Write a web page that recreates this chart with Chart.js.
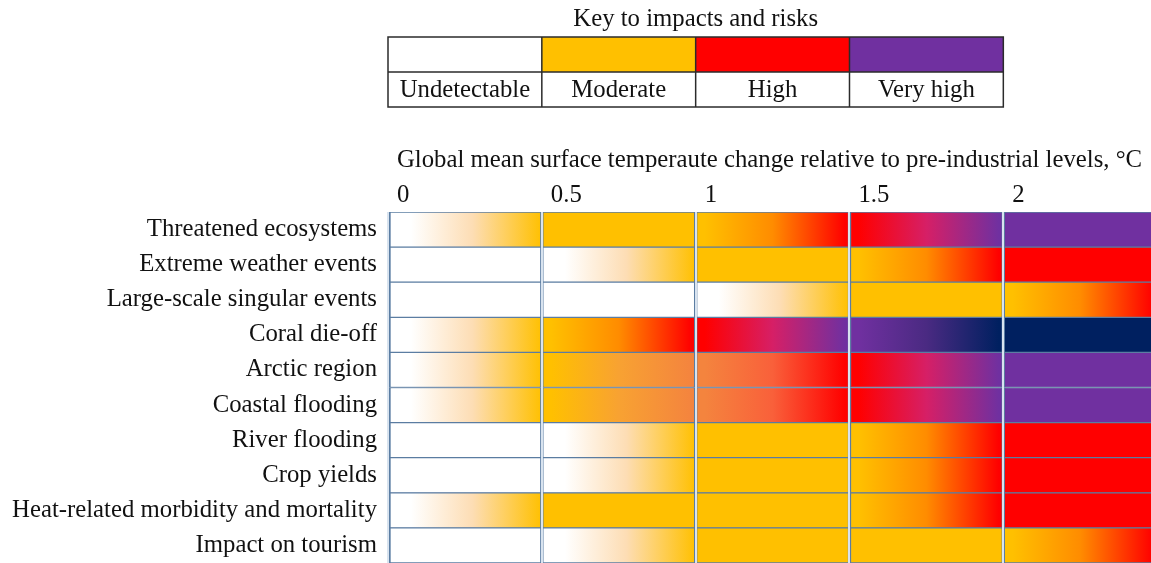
<!DOCTYPE html>
<html>
<head>
<meta charset="utf-8">
<title>Key to impacts and risks</title>
<script src="https://cdn.jsdelivr.net/npm/chart.js@4.4.1/dist/chart.umd.min.js"></script>
<style>
    html, body { margin: 0; padding: 0; background: #fff; }
    #wrap { position: relative; width: 1151px; height: 563px; }
</style>
</head>
<body>
<div id="wrap"><canvas id="riskChart"></canvas></div>
<script>
// Rows, top to bottom
const risks = [
    'Threatened ecosystems',
    'Extreme weather events',
    'Large-scale singular events',
    'Coral die-off',
    'Arctic region',
    'Coastal flooding',
    'River flooding',
    'Crop yields',
    'Heat-related morbidity and mortality',
    'Impact on tourism'
];

// Temperature bands (°C above pre-industrial)
const bandStarts = [0, 0.5, 1, 1.5, 2];
const bandEnds = [0.5, 1, 1.5, 2, 2.5];
const tempTicks = [0, 0.5, 1, 1.5, 2];

// Risk level at each band edge: 0, 0.5, 1, 1.5, 2, 2.5 °C
// 0 undetectable, 1 moderate, 1.5 moderate-to-high, 2 high, 3 very high, 4 beyond very high
const threatenedEcosystems = [0, 1, 1, 2, 3, 3];
const extremeWeather = [0, 0, 1, 1, 2, 2];
const singularEvents = [0, 0, 0, 1, 1, 2];
const coralDieOff = [0, 1, 2, 3, 4, 4];
const arcticRegion = [0, 1, 1.5, 2, 3, 3];
const coastalFlooding = [0, 1, 1.5, 2, 3, 3];
const riverFlooding = [0, 0, 1, 1, 2, 2];
const cropYields = [0, 0, 1, 1, 2, 2];
const heatMortality = [0, 1, 1, 1, 2, 2];
const tourismImpact = [0, 0, 1, 1, 1, 2];

const riskLevels = [
    threatenedEcosystems, extremeWeather, singularEvents, coralDieOff, arcticRegion,
    coastalFlooding, riverFlooding, cropYields, heatMortality, tourismImpact
];

// Key
const keyLabels = ['Undetectable', 'Moderate', 'High', 'Very high'];
const keyLevels = [0, 1, 2, 3];

const LEVEL_COLORS = {
    0: '#FFFFFF',
    1: '#FFC000',
    1.5: '#F4843E',
    2: '#FF0000',
    3: '#7030A0',
    4: '#002060'
};

// Midpoint tint of each transition (the office-style gradients are not plain RGB blends)
const MID_COLORS = {
    '0-1': '#FDDDB4',
    '1-1.5': '#F8A232',
    '1.5-2': '#F9603A',
    '1-2': '#FF8C00',
    '2-3': '#D61F66',
    '3-4': '#4A2A82'
};

const SERIF = "'Liberation Serif', 'Times New Roman', serif";
const TEXT_COLOR = '#111111';
const FONT_SIZE = 24.75;

/**
 * Horizontal gradient for one cell, from the level at the band start to the level at its end
 */
function cellGradient(context, band) {
    const chart = context.chart;
    const row = riskLevels[context.dataIndex];
    if (!chart.chartArea || !row) return null;

    const a = row[band];
    const b = row[band + 1];
    const from = LEVEL_COLORS[a];
    const to = LEVEL_COLORS[b];
    if (from === to) return from;

    const xScale = chart.scales.x;
    const x0 = xScale.getPixelForValue(bandStarts[band]);
    const x1 = xScale.getPixelForValue(bandEnds[band]);
    const g = chart.ctx.createLinearGradient(x0, 0, x1, 0);
    const mid = MID_COLORS[a + '-' + b];
    if (a === 0) {
        g.addColorStop(0, from);
        g.addColorStop(0.15, from);
        if (mid) g.addColorStop(0.55, mid);
        g.addColorStop(1, to);
    } else {
        g.addColorStop(0, from);
        g.addColorStop(0.06, from);
        if (mid) g.addColorStop(0.5, mid);
        g.addColorStop(0.97, to);
        g.addColorStop(1, to);
    }
    return g;
}

/**
 * Key table drawn above the grid, aligned with the temperature bands
 */
const riskKey = {
    id: 'riskKey',
    afterDraw(chart) {
        const { ctx } = chart;
        const x = chart.scales.x;
        const top = 37, mid = 72, bottom = 107;
        const left = x.getPixelForValue(tempTicks[0]);
        const right = x.getPixelForValue(tempTicks[keyLabels.length]);

        ctx.save();
        ctx.font = FONT_SIZE + 'px ' + SERIF;
        ctx.textAlign = 'center';
        ctx.textBaseline = 'middle';
        keyLabels.forEach((label, i) => {
            const l = x.getPixelForValue(tempTicks[i]);
            const r = x.getPixelForValue(tempTicks[i + 1]);
            ctx.fillStyle = LEVEL_COLORS[keyLevels[i]];
            ctx.fillRect(l, top, r - l, mid - top);

            ctx.fillStyle = TEXT_COLOR;
            ctx.fillText(label, (l + r) / 2, (mid + bottom) / 2 + 1);
        });

        ctx.strokeStyle = '#2b2b2b';
        ctx.lineWidth = 1.5;
        ctx.strokeRect(left, top, right - left, bottom - top);
        ctx.beginPath();
        ctx.moveTo(left, mid);
        ctx.lineTo(right, mid);
        for (let i = 1; i < keyLabels.length; i++) {
            const px = x.getPixelForValue(tempTicks[i]);
            ctx.moveTo(px, top);
            ctx.lineTo(px, bottom);
        }
        ctx.stroke();

        ctx.fillStyle = TEXT_COLOR;
        ctx.fillText('Key to impacts and risks', (left + right) / 2, 19);
        ctx.restore();
    }
};

Chart.defaults.font.family = SERIF;
Chart.defaults.font.size = FONT_SIZE;
Chart.defaults.color = TEXT_COLOR;

const chart = new Chart(document.getElementById('riskChart'), {
    type: 'bar',
    data: {
        labels: risks,
        datasets: bandStarts.map((start, b) => ({
            label: start + '–' + bandEnds[b] + ' °C',
            data: risks.map(() => [start, bandEnds[b]]),
            backgroundColor: ctx => cellGradient(ctx, b),
            borderColor: '#5B7DA2',
            borderWidth: { top: 1, bottom: 1, left: 2, right: 2 },
            borderSkipped: false,
            grouped: false,
            barPercentage: 1,
            categoryPercentage: 1
        }))
    },
    options: {
        indexAxis: 'y',
        responsive: true,
        maintainAspectRatio: false,
        animation: false,
        events: [],
        layout: {
            padding: { top: 125, right: 0, bottom: 0, left: 0 }
        },
        plugins: {
            legend: { display: false },
            tooltip: { enabled: false }
        },
        scales: {
            x: {
                type: 'linear',
                position: 'top',
                min: 0,
                max: 2.48,
                afterBuildTicks: scale => {
                    scale.ticks = tempTicks.map(v => ({ value: v }));
                },
                afterFit: scale => {
                    scale.height = 87;
                },
                grid: {
                    color: '#D8E3EF',
                    lineWidth: 2,
                    drawTicks: false,
                    z: 1
                },
                border: { display: false },
                ticks: {
                    align: 'start',
                    labelOffset: 9,
                    padding: 2,
                    callback: value => String(value)
                },
                title: {
                    display: true,
                    text: 'Global mean surface temperaute change relative to pre-industrial levels, °C',
                    padding: { top: 21, bottom: 0 }
                }
            },
            y: {
                grid: { display: false, drawTicks: false },
                border: { display: false },
                afterFit: scale => {
                    scale.width = 388;
                    scale.paddingTop = 0;
                    scale.paddingBottom = 0;
                },
                ticks: {
                    padding: 11
                }
            }
        }
    },
    plugins: [riskKey]
});
</script>
</body>
</html>
